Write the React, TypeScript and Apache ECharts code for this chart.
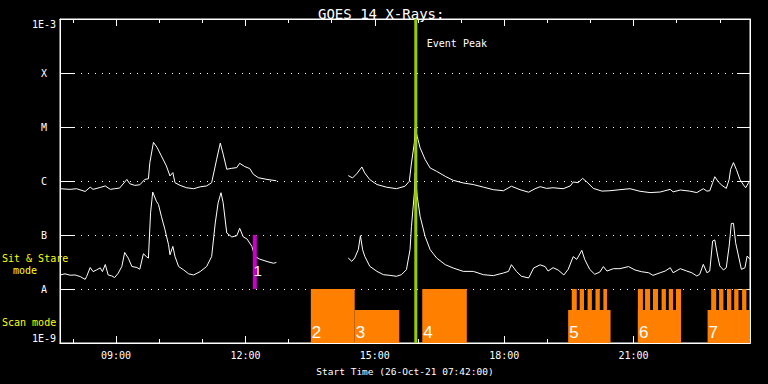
import React, { useEffect, useRef } from "react";
import * as echarts from "echarts";

// ---------- data ----------
const TITLE = "GOES 14 X-Rays:";
const X_NAME = "Start Time (26-Oct-21 07:42:00)";
const X_START = "07:42";
const X_END = "23:42";
const Y_MIN = 1e-9;
const Y_MAX = 1e-3;
const majorHours = [9, 12, 15, 18, 21];
const minorHours = [8, 10, 11, 13, 14, 16, 17, 19, 20, 22, 23];
const levelExponents = [-9, -8, -7, -6, -5, -4, -3];
const levelLabels = ["1E-9", "A", "B", "C", "M", "X", "1E-3"];

// GOES long channel (1-8 A), W/m^2 ; null = data gap
const longTimes = [
  "07:42", "07:56", "08:05", "08:17", "08:24", "08:28", "08:38", "08:45", "08:52", "08:58",
  "09:05", "09:15", "09:19", "09:26", "09:33", "09:40", "09:45", "09:47", "09:52", "09:57",
  "10:03", "10:10", "10:15", "10:19", "10:22", "10:29", "10:38", "10:48", "10:57", "11:06",
  "11:13", "11:20", "11:25", "11:29", "11:34", "11:41", "11:48", "11:52", "11:59", "12:06",
  "12:11", "12:18", "12:30", "12:43", "13:30",
  "14:23", "14:29", "14:35", "14:42", "14:46", "14:53", "15:03", "15:16", "15:30", "15:42",
  "15:48", "15:51", "15:55", "15:56", "15:59", "16:03", "16:10", "16:17", "16:26", "16:38",
  "16:49", "17:03", "17:17", "17:31", "17:45", "17:59", "18:10", "18:22", "18:34", "18:43",
  "18:50", "18:59", "19:08", "19:22", "19:32", "19:36", "19:43", "19:49", "19:55", "20:04",
  "20:16", "20:27", "20:41", "20:55", "21:09", "21:23", "21:37", "21:51", "21:55", "22:05",
  "22:18", "22:28", "22:37", "22:42", "22:46", "22:50", "22:53", "22:58", "23:03", "23:09",
  "23:13", "23:15", "23:19", "23:23", "23:28", "23:33", "23:36", "23:40", "23:42",
];
const longFlux = [
  7.2e-7, 7.0e-7, 7.2e-7, 6.4e-7, 7.7e-7, 7.0e-7, 7.6e-7, 8.1e-7, 7.0e-7, 7.2e-7,
  7.4e-7, 1.07e-6, 8.9e-7, 8.3e-7, 8.5e-7, 1.07e-6, 1.1e-6, 2.2e-6, 5.2e-6, 4.2e-6,
  2.92e-6, 1.9e-6, 1.24e-6, 1.43e-6, 9.3e-7, 8.3e-7, 7.5e-7, 7.2e-7, 7.8e-7, 8.1e-7,
  9.3e-7, 2.54e-6, 5.04e-6, 3.14e-6, 1.65e-6, 1.72e-6, 1.77e-6, 2.13e-6, 1.85e-6, 1.7e-6,
  1.33e-6, 1.15e-6, 1.07e-6, 1.01e-6, null,
  1.26e-6, 1.14e-6, 1.37e-6, 1.82e-6, 1.41e-6, 1.06e-6, 8.6e-7, 7.7e-7, 7.2e-7, 8.0e-7,
  9.9e-7, 2.15e-6, 5.1e-6, 9.6e-6, 6.7e-6, 4.1e-6, 2.5e-6, 1.74e-6, 1.51e-6, 1.22e-6,
  1.03e-6, 9.2e-7, 8.6e-7, 7.7e-7, 6.9e-7, 6.6e-7, 8.0e-7, 6.9e-7, 6.2e-7, 7.2e-7,
  7.85e-7, 7.3e-7, 7.5e-7, 7.2e-7, 8.1e-7, 9.6e-7, 9.3e-7, 1.12e-6, 9.6e-7, 7.3e-7,
  6.5e-7, 6.6e-7, 6.9e-7, 7.2e-7, 6.45e-7, 6.1e-7, 6.25e-7, 7.0e-7, 6.3e-7, 6.8e-7,
  6.5e-7, 6.1e-7, 7.2e-7, 6.5e-7, 6.6e-7, 9.3e-7, 1.2e-6, 9.6e-7, 8.3e-7, 7.3e-7,
  1.07e-6, 1.64e-6, 2.19e-6, 1.64e-6, 1.07e-6, 8.4e-7, 7.5e-7, 9.3e-7, 1.0e-6,
];

// GOES short channel (0.5-4 A), W/m^2 ; null = data gap
const shortTimes = [
  "07:42", "07:49", "07:56", "08:03", "08:10", "08:17", "08:19", "08:24", "08:28", "08:33",
  "08:38", "08:41", "08:45", "08:49", "08:54", "08:58", "09:03", "09:08", "09:12", "09:17",
  "09:22", "09:29", "09:33", "09:38", "09:42", "09:45", "09:48", "09:51", "09:56", "09:59",
  "10:03", "10:08", "10:13", "10:15", "10:19", "10:22", "10:27", "10:34", "10:41", "10:48",
  "10:57", "11:06", "11:13", "11:18", "11:22", "11:26", "11:29", "11:34", "11:41", "11:48",
  "11:52", "11:57", "12:02", "12:09", "12:13", "12:20", "12:30", "12:39", "12:43", "13:30",
  "14:23", "14:28", "14:32", "14:37", "14:40", "14:43", "14:46", "14:53", "15:03", "15:12",
  "15:21", "15:30", "15:37", "15:44", "15:49", "15:51", "15:55", "15:56", "15:59", "16:03",
  "16:10", "16:17", "16:26", "16:38", "16:49", "17:03", "17:17", "17:31", "17:45", "17:59",
  "18:06", "18:10", "18:17", "18:24", "18:34", "18:41", "18:50", "18:57", "19:01", "19:08",
  "19:15", "19:23", "19:29", "19:36", "19:41", "19:48", "19:52", "19:59", "20:06", "20:13",
  "20:18", "20:23", "20:32", "20:41", "20:53", "21:02", "21:11", "21:21", "21:27", "21:37",
  "21:44", "21:51", "21:55", "22:05", "22:14", "22:21", "22:28", "22:32", "22:37", "22:42",
  "22:46", "22:50", "22:53", "22:57", "23:00", "23:05", "23:09", "23:13", "23:16", "23:19",
  "23:22", "23:26", "23:30", "23:35", "23:38", "23:42",
];
const shortFlux = [
  1.82e-8, 1.91e-8, 1.8e-8, 1.82e-8, 1.7e-8, 1.51e-8, 1.7e-8, 2.5e-8, 2.1e-8, 2.26e-8,
  2.46e-8, 2.1e-8, 2.84e-8, 1.82e-8, 1.75e-8, 1.63e-8, 1.96e-8, 2.61e-8, 4.75e-8, 3.73e-8,
  2.61e-8, 2.5e-8, 2.32e-8, 4.49e-8, 4.0e-8, 3.73e-8, 2.57e-7, 6.24e-7, 4.24e-7, 3.67e-7,
  2.23e-7, 1.26e-7, 6.6e-8, 4.3e-8, 6.15e-8, 4.0e-8, 2.61e-8, 2.26e-8, 1.91e-8, 1.82e-8,
  2.1e-8, 2.61e-8, 4.0e-8, 1.67e-7, 3.94e-7, 6.07e-7, 3.94e-7, 1.09e-7, 9.2e-8, 9.7e-8,
  1.33e-7, 9.2e-8, 8.5e-8, 6.15e-8, 4.0e-8, 3.57e-8, 3.23e-8, 3.0e-8, 3.1e-8, null,
  3.75e-8, 3.25e-8, 3.75e-8, 5.35e-8, 9.7e-8, 5.35e-8, 4.03e-8, 2.63e-8, 2.12e-8, 1.84e-8,
  1.79e-8, 1.72e-8, 1.84e-8, 2.28e-8, 5.35e-8, 1.45e-7, 6.0e-7, 1.41e-6, 5.2e-7, 2.22e-7,
  9.4e-8, 5.35e-8, 3.75e-8, 2.82e-8, 2.45e-8, 2.12e-8, 2.12e-8, 1.84e-8, 1.77e-8, 1.98e-8,
  2.12e-8, 2.82e-8, 2.12e-8, 1.72e-8, 1.6e-8, 2.45e-8, 2.8e-8, 2.6e-8, 2.15e-8, 2.48e-8,
  2.25e-8, 1.82e-8, 2.31e-8, 3.97e-8, 3.54e-8, 5.2e-8, 3.54e-8, 2.31e-8, 1.87e-8, 2.06e-8,
  2.6e-8, 2.15e-8, 2.38e-8, 2.38e-8, 2.6e-8, 2.25e-8, 2.09e-8, 2.0e-8, 1.79e-8, 2.0e-8,
  2.15e-8, 2.48e-8, 2.0e-8, 2.38e-8, 2.15e-8, 2.0e-8, 1.74e-8, 1.87e-8, 2.86e-8, 2.0e-8,
  2.15e-8, 7.74e-8, 8.1e-8, 4.08e-8, 2.67e-8, 2.25e-8, 2.48e-8, 6.25e-8, 1.64e-7, 1.64e-7,
  7.2e-8, 4.08e-8, 2.31e-8, 2.48e-8, 4.08e-8, 3.54e-8,
];

// Scan-mode observations
const scanLabels = ["2", "3", "4", "5", "6", "7"];
const scanStarts = ["13:31", "14:32", "16:06", "19:29", "21:06", "22:43"];
const scanEnds = ["14:32", "15:34", "17:08", "20:28", "22:06", "23:42"];
const scanTops = [1e-8, 4.1e-9, 1e-8, 4.1e-9, 4.1e-9, 4.1e-9];
const burstStarts = [
  "19:34", "19:45", "19:56", "20:07", "20:18",
  "21:06", "21:16", "21:27", "21:39", "21:49", "21:59",
  "22:48", "22:59", "23:10", "23:20", "23:31",
];
const burstEnds = [
  "19:41", "19:51", "20:02", "20:13", "20:23",
  "21:13", "21:23", "21:34", "21:45", "21:55", "22:06",
  "22:55", "23:05", "23:16", "23:26", "23:37",
];
const burstTop = 1e-8;

// Sit & stare observations
const stareLabels = ["1"];
const stareTimes = ["12:13"];
const stareTop = 1e-7;
const stareBottom = 1e-8;

// Event peak
const peakTime = "15:57";
const peakLabel = "Event Peak";

// ---------- helpers ----------
const toH = (t: string) => {
  const [h, m] = t.split(":").map(Number);
  return h + m / 60;
};
const pad2 = (n: number) => (n < 10 ? "0" + n : "" + n);
const MONO = '"DejaVu Sans Mono", monospace';
const NARROW = '"Liberation Sans Narrow", "Liberation Sans", sans-serif';
const WHITE = "#ffffff";
const ORANGE = "#ff8000";
const GREEN = "#99cc00";
const MAGENTA = "#cc00cc";
const YELLOW = "#ffff00";

export default function App() {
  const ref = useRef<HTMLDivElement>(null);

  useEffect(() => {
    if (!ref.current) return;
    const chart = echarts.init(ref.current, null, { renderer: "svg" });
    const xMin = toH(X_START);
    const xMax = toH(X_END);

    const baseX = {
      type: "value",
      min: xMin,
      max: xMax,
      gridIndex: 0,
      splitLine: { show: false },
      axisLine: { show: true, lineStyle: { color: WHITE, width: 1 } },
    };
    const tickAxis = (position: string, values: number[], len: number, withLabels: boolean) => ({
      ...baseX,
      position,
      axisTick: {
        show: true,
        inside: true,
        length: len,
        customValues: values,
        lineStyle: { color: WHITE, width: 1 },
      },
      axisLabel: withLabels
        ? {
            show: true,
            customValues: majorHours,
            color: WHITE,
            fontFamily: MONO,
            fontSize: 10,
            margin: 7,
            formatter: (v: number) => pad2(Math.round(v)) + ":00",
          }
        : { show: false },
      name: withLabels ? X_NAME : "",
      nameLocation: "middle",
      nameGap: 23,
      nameTextStyle: { color: WHITE, fontFamily: MONO, fontSize: 9.5 },
    });

    const labelFor = (v: number) => {
      const e = Math.round(Math.log10(v));
      const i = levelExponents.indexOf(e);
      return i >= 0 ? levelLabels[i] : "";
    };
    const levelValues = levelExponents.map((e) => Math.pow(10, e));

    const baseY = {
      type: "log",
      logBase: 10,
      min: Y_MIN,
      max: Y_MAX,
      splitNumber: 6,
      axisLine: { show: true, lineStyle: { color: WHITE, width: 1 } },
    };

    const lineData = (times: string[], vals: (number | null)[]) =>
      times.map((t, i) => [toH(t), vals[i] == null ? "-" : vals[i]]);

    const scanData = scanStarts.map((s, i) => [toH(s), toH(scanEnds[i]), scanTops[i], i]);
    const burstData = burstStarts.map((s, i) => [toH(s), toH(burstEnds[i]), burstTop, i]);

    const rectItem = (params: any, api: any, withLabel: boolean) => {
      const x0 = api.value(0);
      const x1 = api.value(1);
      const top = api.value(2);
      const p0 = api.coord([x0, top]);
      const p1 = api.coord([x1, Y_MIN]);
      const children: any[] = [
        {
          type: "rect",
          shape: { x: p0[0], y: p0[1], width: p1[0] - p0[0], height: p1[1] - p0[1] },
          style: { fill: ORANGE },
        },
      ];
      if (withLabel) {
        children.push({
          type: "text",
          x: p0[0] + 1,
          y: p1[1] - 2,
          z2: 10,
          style: {
            text: scanLabels[api.value(3)],
            fill: WHITE,
            fontFamily: NARROW,
            fontSize: 17,
            align: "left",
            verticalAlign: "bottom",
          },
        });
      }
      return { type: "group", children };
    };

    const option: any = {
      animation: false,
      backgroundColor: "#000000",
      title: {
        text: TITLE,
        left: 313,
        top: 2,
        textStyle: { color: WHITE, fontFamily: MONO, fontSize: 14, fontWeight: "normal" },
      },
      grid: {
        left: 60,
        right: 18,
        top: 19,
        bottom: 41,
        show: true,
        borderColor: WHITE,
        borderWidth: 1,
        backgroundColor: "transparent",
      },
      xAxis: [
        tickAxis("bottom", majorHours, 7, true),
        tickAxis("bottom", minorHours, 4, false),
        tickAxis("top", majorHours, 7, false),
        tickAxis("top", minorHours, 4, false),
      ],
      yAxis: [
        {
          ...baseY,
          position: "left",
          axisTick: {
            show: true,
            inside: true,
            length: 14,
            customValues: levelValues,
            lineStyle: { color: WHITE, width: 1 },
          },
          axisLabel: {
            show: true,
            customValues: levelValues,
            color: WHITE,
            fontFamily: MONO,
            fontSize: 10,
            align: "center",
            margin: 16,
            verticalAlignMaxLabel: "top",
            verticalAlignMinLabel: "bottom",
            formatter: labelFor,
          },
          splitLine: {
            show: true,
            lineStyle: { color: WHITE, width: 1, type: [1, 6] },
          },
        },
        {
          ...baseY,
          position: "right",
          axisTick: {
            show: true,
            inside: true,
            length: 13,
            customValues: levelValues,
            lineStyle: { color: WHITE, width: 1 },
          },
          axisLabel: { show: false },
          splitLine: { show: false },
        },
      ],
      graphic: [
        {
          type: "text",
          left: 2,
          top: 253,
          style: { text: "Sit & Stare", fill: YELLOW, fontFamily: MONO, fontSize: 10 },
        },
        {
          type: "text",
          left: 13,
          top: 265,
          style: { text: "mode", fill: YELLOW, fontFamily: MONO, fontSize: 10 },
        },
        {
          type: "text",
          left: 2,
          top: 317,
          style: { text: "Scan mode", fill: YELLOW, fontFamily: MONO, fontSize: 10 },
        },
      ],
      series: [
        {
          type: "custom",
          name: "scanBursts",
          xAxisIndex: 0,
          yAxisIndex: 0,
          z: 1,
          data: burstData,
          renderItem: (p: any, api: any) => rectItem(p, api, false),
        },
        {
          type: "custom",
          name: "scan",
          xAxisIndex: 0,
          yAxisIndex: 0,
          z: 2,
          data: scanData,
          renderItem: (p: any, api: any) => rectItem(p, api, true),
        },
        {
          type: "line",
          name: "long",
          xAxisIndex: 0,
          yAxisIndex: 0,
          z: 3,
          data: lineData(longTimes, longFlux),
          showSymbol: false,
          symbol: "none",
          connectNulls: false,
          lineStyle: { color: WHITE, width: 1 },
        },
        {
          type: "line",
          name: "short",
          xAxisIndex: 0,
          yAxisIndex: 0,
          z: 3,
          data: lineData(shortTimes, shortFlux),
          showSymbol: false,
          symbol: "none",
          connectNulls: false,
          lineStyle: { color: WHITE, width: 1 },
        },
        {
          type: "custom",
          name: "stare",
          xAxisIndex: 0,
          yAxisIndex: 0,
          z: 4,
          data: stareTimes.map((t, i) => [toH(t), stareTop, stareBottom, i]),
          renderItem: (p: any, api: any) => {
            const t = api.value(0);
            const a = api.coord([t, api.value(1)]);
            const b = api.coord([t, api.value(2)]);
            return {
              type: "group",
              children: [
                {
                  type: "rect",
                  shape: { x: a[0] - 2, y: a[1], width: 4, height: b[1] - a[1] },
                  style: { fill: MAGENTA },
                },
                {
                  type: "text",
                  x: a[0] + 3,
                  y: b[1] - 11,
                  style: {
                    text: stareLabels[api.value(3)],
                    fill: WHITE,
                    fontFamily: NARROW,
                    fontSize: 15,
                    align: "center",
                    verticalAlign: "bottom",
                  },
                },
              ],
            };
          },
        },
        {
          type: "custom",
          name: "peak",
          xAxisIndex: 0,
          yAxisIndex: 0,
          z: 5,
          data: [[toH(peakTime), Y_MAX]],
          renderItem: (p: any, api: any) => {
            const t = api.value(0);
            const a = api.coord([t, Y_MAX]);
            const b = api.coord([t, Y_MIN]);
            return {
              type: "group",
              children: [
                {
                  type: "line",
                  shape: { x1: a[0], y1: a[1], x2: b[0], y2: b[1] },
                  style: { stroke: GREEN, lineWidth: 3 },
                },
                {
                  type: "text",
                  x: a[0] + 11,
                  y: a[1] + 24,
                  style: {
                    text: peakLabel,
                    fill: WHITE,
                    fontFamily: MONO,
                    fontSize: 10,
                    align: "left",
                    verticalAlign: "middle",
                  },
                },
              ],
            };
          },
        },
      ],
    };

    chart.setOption(option);
    return () => chart.dispose();
  }, []);

  return (
    <div
      style={{ position: "fixed", left: 0, top: 0, width: 768, height: 384, background: "#000" }}
    >
      <div ref={ref} style={{ width: 768, height: 384 }} />
    </div>
  );
}
